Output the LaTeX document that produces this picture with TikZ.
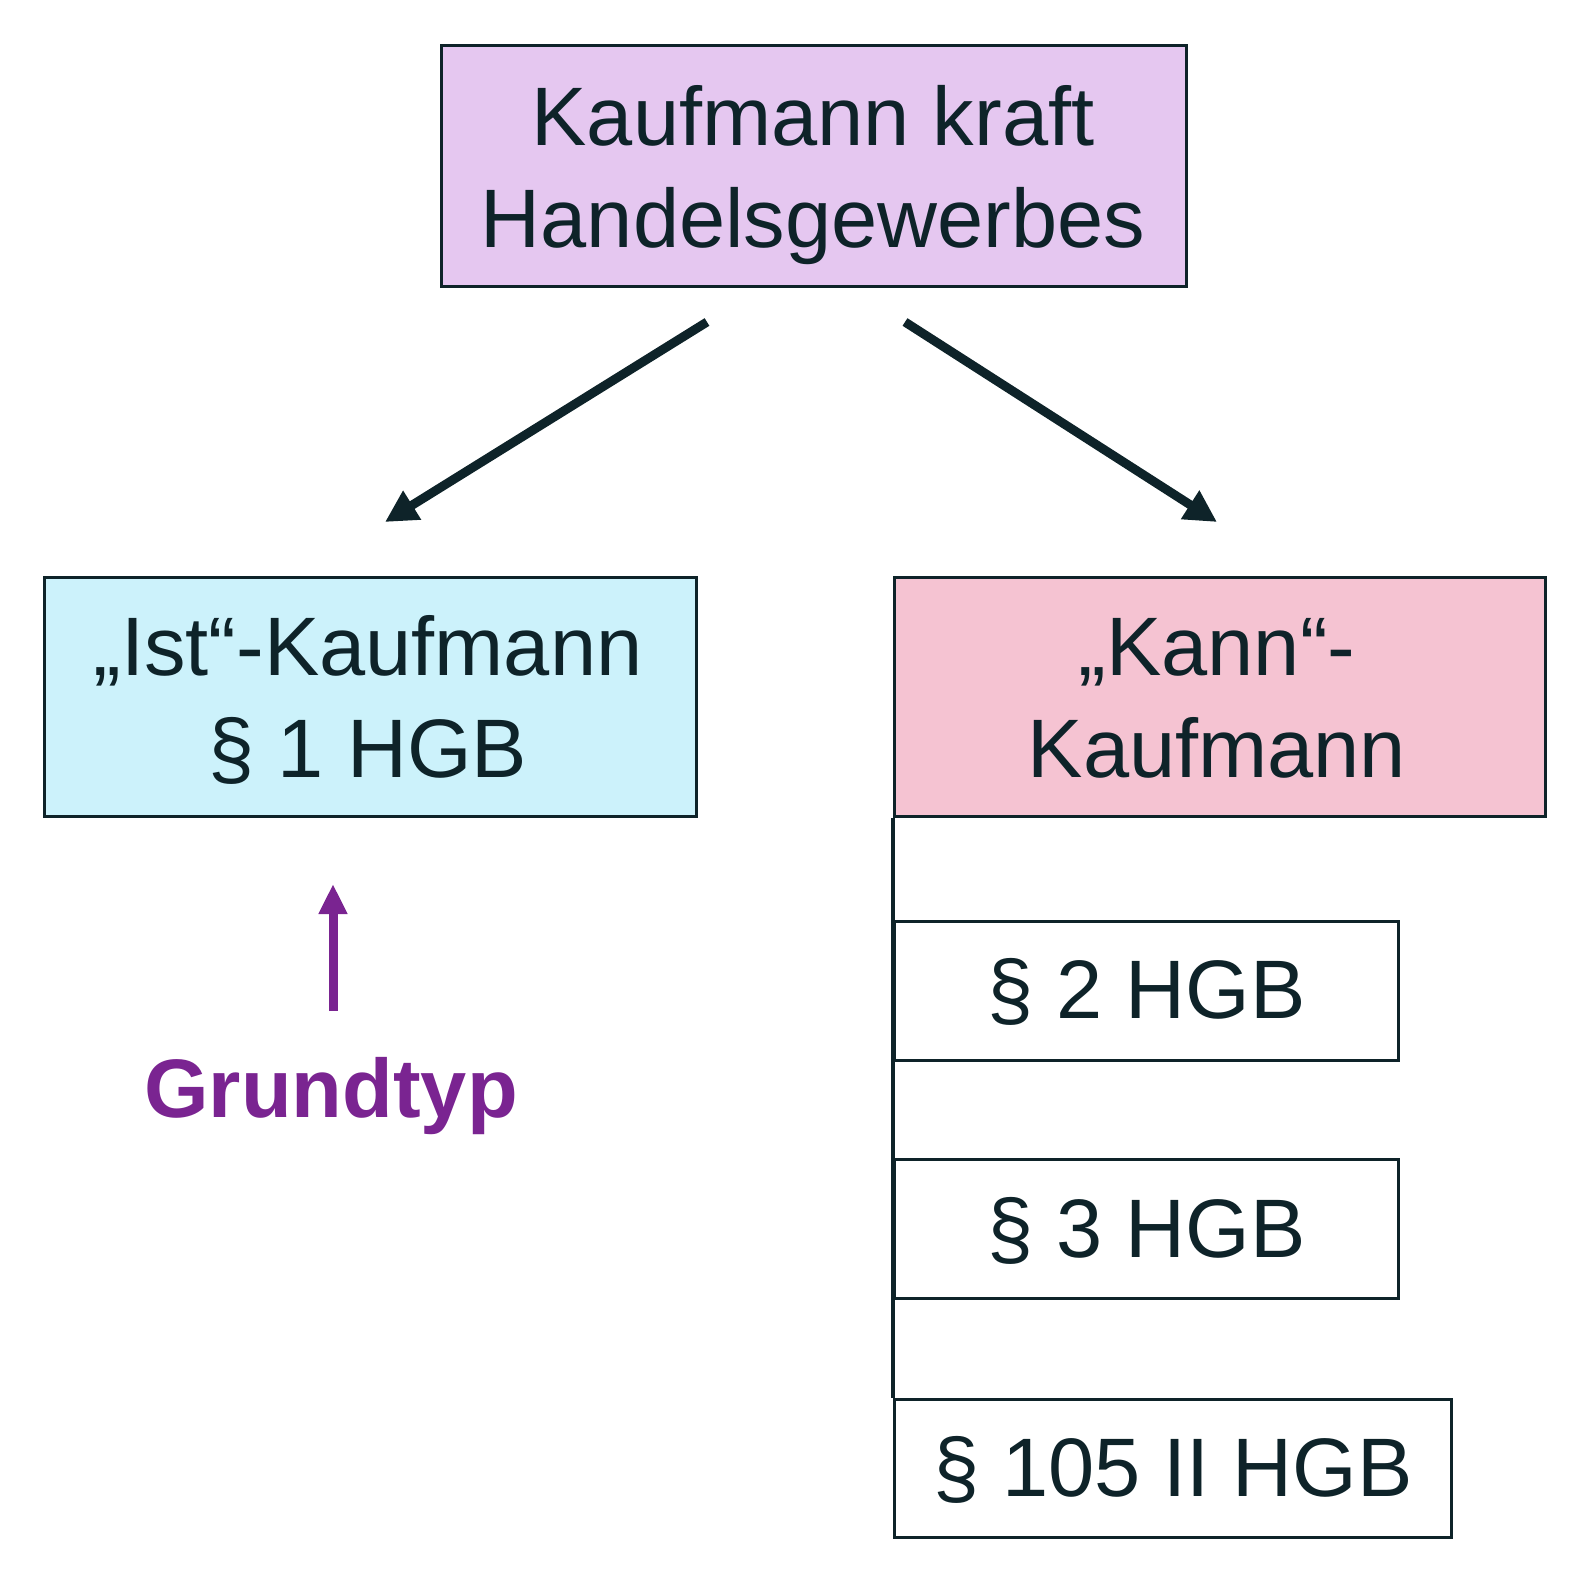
\documentclass[tikz,border=0pt]{standalone}
\usepackage{fontspec}
\setmainfont{Liberation Sans}
\usetikzlibrary{arrows.meta}
\definecolor{ink}{HTML}{0E2329}
\definecolor{lav}{HTML}{E5C7F0}
\definecolor{cyanbox}{HTML}{CCF2FB}
\definecolor{pinkbox}{HTML}{F5C3D2}
\definecolor{purp}{HTML}{7A2491}
\tikzset{
  frame/.style={draw=ink, line width=3pt, inner sep=0pt, rectangle},
  txt/.style={text=ink, font=\fontsize{83}{100}\selectfont, inner sep=0pt, anchor=base},
  conn/.style={draw=ink, line width=9pt, -{Triangle[length=32pt,width=32pt]}},
  pconn/.style={draw=purp, line width=9pt, -{Triangle[length=30pt,width=27pt]}}
}
\begin{document}
\begin{tikzpicture}[x=1pt,y=-1pt]
\useasboundingbox (0,0) rectangle (1596,1584);
% boxes
\node[frame, fill=lav, minimum width=745pt, minimum height=240pt] (top) at (813.5,166) {};
\node[frame, fill=cyanbox, minimum width=652pt, minimum height=239pt] (ist) at (370,696.5) {};
\node[frame, fill=pinkbox, minimum width=651pt, minimum height=239pt, anchor=north west] (kann) at (893,576) {};
\node[frame, minimum width=504pt, minimum height=139pt, anchor=north west] (p2) at (893,920) {};
\node[frame, minimum width=504pt, minimum height=139pt, anchor=north west] (p3) at (893,1158) {};
\node[frame, minimum width=557pt, minimum height=138pt, anchor=north west] (p105) at (893,1398) {};
% texts
\node[txt] (t1) at (813,146) {Kaufmann kraft};
\node[txt] (t2) at (813,247) {Handelsgewerbes};
\node[txt] (t3) at (368,675) {„Ist“-Kaufmann};
\node[txt] (t4) at (368,777) {§ 1 HGB};
\node[txt] (t5) at (1217,675) {„Kann“-};
\node[txt] (t6) at (1217,777) {Kaufmann};
\node[txt] (t7) at (p2.center |- 0,1018) {§ 2 HGB};
\node[txt] (t8) at (p3.center |- 0,1257) {§ 3 HGB};
\node[txt] (t9) at (p105.center |- 0,1496) {§ 105 II HGB};
\node[txt, text=purp, font=\fontsize{83}{100}\selectfont\bfseries] (gt) at (331,1117) {Grundtyp};
% connectors
\coordinate (la) at (707,322);
\coordinate (lb) at (385,522);
\coordinate (ra) at (905,322);
\coordinate (rb) at (1217,522);
\draw[conn] (la) -- (lb);
\draw[conn] (ra) -- (rb);
\draw[draw=ink, line width=4pt] (kann.south west) -- (p105.north west);
\coordinate (pa) at (333,1011);
\coordinate (pb) at (333,884);
\draw[pconn] (pa) -- (pb);
\end{tikzpicture}
\end{document}
